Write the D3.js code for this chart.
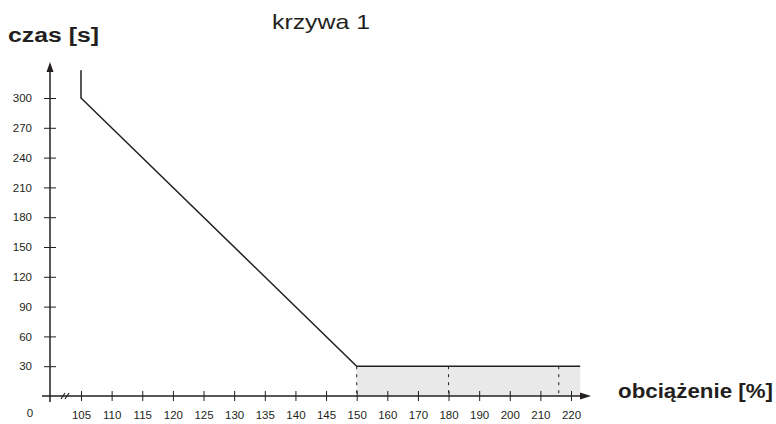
<!DOCTYPE html>
<html>
<head>
<meta charset="utf-8">
<script src="https://cdn.jsdelivr.net/npm/d3@7"></script>
<style>
  body { margin: 0; background: #fff; }
  svg { display: block; font-family: "Liberation Sans", Arial, sans-serif; }
  .tick text { fill: #231f20; }
</style>
</head>
<body>
<div id="chart"></div>
<script>
// DATA
// ------------------------------------------------------------------

// tick values of both axes
var yTicks = [30, 60, 90, 120, 150, 180, 210, 240, 270, 300];
var xTicks = [105, 110, 115, 120, 125, 130, 135, 140, 145, 150,
              160, 170, 180, 190, 200, 210, 220];

// tripping curve: load [%] -> time [s]
var curveLoad = [105, 105, 150, 223];
var curveTime = [328, 300, 30, 30];

// shaded zone and dashed markers
var zoneLoad = [150, 223];
var zoneTime = 30;
var dashLoad = [150, 180, 216];

// CANVAS
// ------------------------------------------------------------------

var width = 776,
    height = 424,
    ink = "#231f20";

var svg = d3.select("#chart")
    .append("svg")
    .attr("width", width)
    .attr("height", height);

// SCALES
// ------------------------------------------------------------------

var axisX = 50,   // where the y axis stands
    axisY = 396;  // where the x axis lies

// x scale is broken: steps of 5 up to 150, steps of 10 after
var xScale = d3.scaleLinear()
    .domain([105, 150, 220])
    .range([81, 356.7, 571]);

var yScale = d3.scaleLinear()
    .domain([0, 300])
    .range([axisY, 98]);

// SHADED ZONE
// ------------------------------------------------------------------

svg.append("rect")
    .attr("x", xScale(zoneLoad[0]))
    .attr("y", yScale(zoneTime))
    .attr("width", xScale(zoneLoad[1]) - xScale(zoneLoad[0]))
    .attr("height", yScale(0) - yScale(zoneTime))
    .attr("fill", "#e9e9e9");

svg.selectAll(".dash")
    .data(dashLoad)
    .enter().append("line")
    .attr("class", "dash")
    .attr("x1", function(d) { return xScale(d); })
    .attr("x2", function(d) { return xScale(d); })
    .attr("y1", yScale(zoneTime))
    .attr("y2", yScale(0))
    .attr("stroke", ink)
    .attr("stroke-width", 1)
    .attr("stroke-dasharray", "3,5");

// AXES
// ------------------------------------------------------------------

var yAxis = d3.axisLeft(yScale)
    .tickValues(yTicks)
    .tickSize(6)
    .tickPadding(12);

var gy = svg.append("g")
    .attr("transform", "translate(" + axisX + ",0)")
    .call(yAxis);
gy.select(".domain").remove();
gy.selectAll(".tick line").attr("x1", -6).attr("x2", 6).attr("stroke", ink);
gy.selectAll(".tick text").style("font-size", "11.5px");

var xAxis = d3.axisBottom(xScale)
    .tickValues(xTicks)
    .tickSize(5)
    .tickPadding(10);

var gx = svg.append("g")
    .attr("transform", "translate(0," + axisY + ")")
    .call(xAxis);
gx.select(".domain").remove();
gx.selectAll(".tick line").attr("y1", -5).attr("y2", 5).attr("stroke", ink);
gx.selectAll(".tick text").style("font-size", "11.5px");

// origin label
svg.append("text")
    .attr("x", 30)
    .attr("y", 417)
    .attr("text-anchor", "middle")
    .attr("fill", ink)
    .style("font-size", "11.5px")
    .text("0");

// axis lines with arrows
svg.append("line")
    .attr("x1", axisX).attr("x2", axisX)
    .attr("y1", 402).attr("y2", 70)
    .attr("stroke", ink).attr("stroke-width", 1.5);
svg.append("path")
    .attr("d", "M" + axisX + ",62 L" + (axisX - 3.5) + ",72 L" + (axisX + 3.5) + ",72 Z")
    .attr("fill", ink);

svg.append("line")
    .attr("x1", 42).attr("x2", 582)
    .attr("y1", axisY).attr("y2", axisY)
    .attr("stroke", ink).attr("stroke-width", 1.5);
svg.append("path")
    .attr("d", "M591," + axisY + " L580," + (axisY - 3.5) + " L580," + (axisY + 3.5) + " Z")
    .attr("fill", ink);

// axis break marks
[61, 65].forEach(function(bx) {
  svg.append("line")
      .attr("x1", bx).attr("y1", axisY + 3)
      .attr("x2", bx + 4).attr("y2", axisY - 3)
      .attr("stroke", ink).attr("stroke-width", 1.2);
});

// CURVE
// ------------------------------------------------------------------

var curveData = curveLoad.map(function(d, i) { return [d, curveTime[i]]; });

var lineFunction = d3.line()
    .x(function(d) { return xScale(d[0]); })
    .y(function(d) { return yScale(d[1]); })
    .curve(d3.curveLinear);

svg.append("path")
    .attr("d", lineFunction(curveData))
    .attr("fill", "none")
    .attr("stroke", ink)
    .attr("stroke-width", 1.5);

// LABELS
// ------------------------------------------------------------------

svg.append("text")
    .attr("x", 272)
    .attr("y", 29)
    .attr("fill", ink)
    .attr("textLength", 98)
    .attr("lengthAdjust", "spacingAndGlyphs")
    .style("font-size", "21px")
    .text("krzywa 1");

svg.append("text")
    .attr("x", 8)
    .attr("y", 42)
    .attr("fill", ink)
    .attr("textLength", 91)
    .attr("lengthAdjust", "spacingAndGlyphs")
    .style("font-size", "20px")
    .style("font-weight", "bold")
    .text("czas [s]");

svg.append("text")
    .attr("x", 618)
    .attr("y", 398)
    .attr("fill", ink)
    .attr("textLength", 155)
    .attr("lengthAdjust", "spacingAndGlyphs")
    .style("font-size", "20px")
    .style("font-weight", "bold")
    .text("obciążenie [%]");
</script>
</body>
</html>
